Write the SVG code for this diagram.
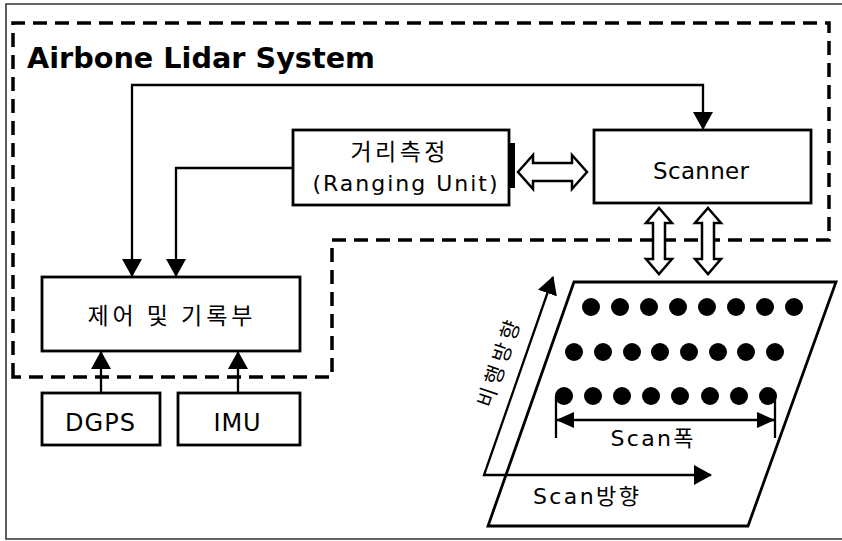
<svg xmlns="http://www.w3.org/2000/svg" width="842" height="541" viewBox="0 0 842 541">
<style>
.box{fill:#fff;stroke:#000;stroke-width:2.8}
.ln{fill:none;stroke:#000;stroke-width:2.3}
.hollow{fill:#fff;stroke:#000;stroke-width:2.5;stroke-linejoin:miter}
.t{font-family:"DejaVu Sans","Noto Sans CJK KR",sans-serif;fill:#000}
.k{font-family:"Noto Sans CJK KR","DejaVu Sans",sans-serif;fill:#000}
.m{text-anchor:middle}
.dot{fill:#000}
</style>
<defs>
<marker id="ah" viewBox="0 0 18 20" refX="17" refY="10" markerWidth="18" markerHeight="20" markerUnits="userSpaceOnUse" orient="auto-start-reverse">
<path d="M0,0 L18,10 L0,20 z" fill="#000"/>
</marker>
<marker id="ahs" viewBox="0 0 18 16" refX="17" refY="8" markerWidth="18" markerHeight="16" markerUnits="userSpaceOnUse" orient="auto-start-reverse">
<path d="M0,0 L18,8 L0,16 z" fill="#000"/>
</marker>
</defs>
<rect width="842" height="541" fill="#fff"/>
<!-- outer frame -->
<path d="M846,4 H6 V539 H846" fill="none" stroke="#333" stroke-width="1.6"/>
<!-- system boundary -->
<path id="boundary" d="M13,377 V23 H829 V240 H332 V377 Z" fill="none" stroke="#000" stroke-width="3.5" stroke-dasharray="14 8"/>
<text class="t" x="27" y="68" font-size="28" font-weight="bold" textLength="348" lengthAdjust="spacingAndGlyphs">Airbone Lidar System</text>

<g id="connectors">
<path class="ln" d="M132,276 V85 H703 V129" marker-start="url(#ah)" marker-end="url(#ah)"/>
<path class="ln" d="M293,168 H176 V276" marker-end="url(#ah)"/>
<path class="ln" d="M101,393 V352" marker-end="url(#ah)"/>
<path class="ln" d="M238,393 V352" marker-end="url(#ah)"/>
<polygon class="hollow" points="518,172 533,155 533,163 572,163 572,155 587,172 572,189 572,181 533,181 533,189"/>
<polygon class="hollow" points="659,208 672,223 665,223 665,259 672,259 659,274 646,259 653,259 653,223 646,223"/>
<polygon class="hollow" points="708,208 721,223 714,223 714,259 721,259 708,274 695,259 702,259 702,223 695,223"/>
</g>

<g id="ranging">
<rect class="box" x="293" y="130" width="216" height="75"/>
<rect x="509" y="143" width="6" height="45" fill="#000"/>
<text class="k m" x="398" y="160" font-size="23" textLength="95" lengthAdjust="spacing">거리측정</text>
<text class="t m" x="405" y="191" font-size="22" textLength="185" lengthAdjust="spacing">(Ranging Unit)</text>
</g>
<g id="scanner">
<rect class="box" x="594" y="130" width="217" height="73"/>
<text class="t m" x="701" y="179" font-size="23" textLength="96" lengthAdjust="spacing">Scanner</text>
</g>
<g id="control">
<rect class="box" x="42" y="277" width="258" height="74"/>
<text class="k m" x="170" y="324" font-size="23" textLength="165" lengthAdjust="spacing">제어 및 기록부</text>
</g>
<g id="dgps">
<rect class="box" x="42" y="393" width="118" height="52"/>
<text class="t m" x="100" y="431" font-size="24" textLength="70" lengthAdjust="spacing">DGPS</text>
</g>
<g id="imu">
<rect class="box" x="178" y="393" width="122" height="52"/>
<text class="t m" x="237" y="431" font-size="24" textLength="47" lengthAdjust="spacing">IMU</text>
</g>

<g id="scan-area">
<polygon points="574,282 836,282 748,526 488,526" fill="none" stroke="#000" stroke-width="2.8"/>
<g class="dot">
<circle cx="591" cy="307" r="9"/><circle cx="620" cy="307" r="9"/><circle cx="649" cy="307" r="9"/><circle cx="678" cy="307" r="9"/><circle cx="707" cy="307" r="9"/><circle cx="736" cy="307" r="9"/><circle cx="765" cy="307" r="9"/><circle cx="794" cy="307" r="9"/>
<circle cx="574" cy="352" r="9"/><circle cx="603" cy="352" r="9"/><circle cx="632" cy="352" r="9"/><circle cx="660" cy="352" r="9"/><circle cx="689" cy="352" r="9"/><circle cx="718" cy="352" r="9"/><circle cx="746" cy="352" r="9"/><circle cx="775" cy="352" r="9"/>
<circle cx="564" cy="396" r="9"/><circle cx="593" cy="396" r="9"/><circle cx="622" cy="396" r="9"/><circle cx="651" cy="396" r="9"/><circle cx="680" cy="396" r="9"/><circle cx="710" cy="396" r="9"/><circle cx="739" cy="396" r="9"/><circle cx="768" cy="396" r="9"/>
</g>
<path class="ln" d="M556,396 V438 M775,396 V438"/>
<path class="ln" d="M557,420 H774" marker-start="url(#ahs)" marker-end="url(#ahs)"/>
<text class="t m" x="652" y="446" font-size="22" textLength="83" lengthAdjust="spacing">Scan폭</text>
<path class="ln" d="M711,475 H484 L553,277" marker-start="url(#ah)" marker-end="url(#ah)"/>
<text class="t" x="533" y="504" font-size="22" textLength="106" lengthAdjust="spacing">Scan방향</text>
<text class="k m" transform="translate(499,364) rotate(-71)" x="0" y="7" font-size="21" textLength="90" lengthAdjust="spacing">비행방향</text>
</g>
</svg>
